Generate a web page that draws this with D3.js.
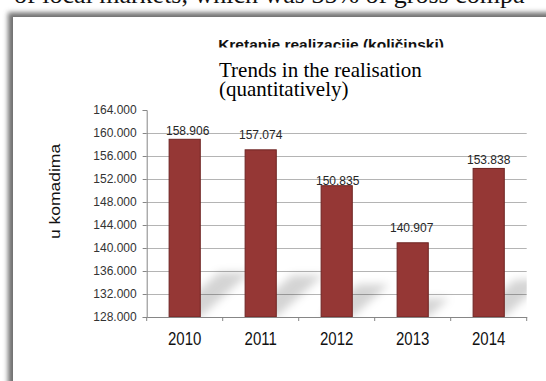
<!DOCTYPE html>
<html>
<head>
<meta charset="utf-8">
<script src="https://cdn.jsdelivr.net/npm/d3@7"></script>
<style>
  html, body { margin: 0; padding: 0; background: #fff; overflow: hidden; }
  svg { display: block; }
</style>
</head>
<body>
<svg id="chart" width="546" height="381"></svg>
<script>
// Annual realisation in units
const years = ["2010", "2011", "2012", "2013", "2014"];
const units = [158906, 157074, 150835, 140907, 153838];
const yTicks = [128000, 132000, 136000, 140000, 144000, 148000, 152000, 156000, 160000, 164000];
const yDomain = [128000, 164000];
// vertical gap between each value label and the top of its bar
const labelLift = [4, 11, 0.5, 10.5, 4];
const labelShift = [3, 0, 1, -1, 0];

const fmt = d3.formatLocale({ decimal: ",", thousands: ".", grouping: [3], currency: ["", ""] }).format(",d");

const svg = d3.select("#chart");
const defs = svg.append("defs");

defs.append("filter").attr("id", "soft").attr("x", "-20%").attr("y", "-20%")
  .attr("width", "140%").attr("height", "140%")
  .append("feGaussianBlur").attr("stdDeviation", 2.6);
defs.append("filter").attr("id", "floorShadow").attr("x", "-50%").attr("y", "-50%")
  .attr("width", "200%").attr("height", "200%")
  .append("feGaussianBlur").attr("stdDeviation", 4.5);

// surrounding line of body text, mostly cut off by the top edge
svg.append("text")
  .attr("x", 14).attr("y", 2.5)
  .attr("font-family", "'Liberation Serif', 'Times New Roman', serif")
  .attr("font-size", 26)
  .attr("fill", "#111")
  .text("of local markets, which was 35% of gross compa");

// framed chart sheet with a soft shadow on its top and left
svg.append("rect").attr("x", 8).attr("y", 12.5).attr("width", 700).attr("height", 600)
  .attr("fill", "#6f6f6f").attr("filter", "url(#soft)");
svg.append("rect").attr("x", 13).attr("y", 17).attr("width", 700).attr("height", 600)
  .attr("fill", "#fff");

// plot geometry
const plot = { left: 146.7, right: 526.7, top: 110, bottom: 317 };

const x = d3.scaleBand().domain(years).range([plot.left, plot.right]).padding(0);
const y = d3.scaleLinear().domain(yDomain).range([plot.bottom, plot.top]);
const barW = x.bandwidth() * 0.41;

defs.append("clipPath").attr("id", "plotClip")
  .append("rect")
  .attr("x", plot.left).attr("y", plot.top)
  .attr("width", plot.right - plot.left).attr("height", plot.bottom - plot.top);

// horizontal gridlines
svg.append("g").selectAll("line")
  .data(yTicks.filter(v => v > yDomain[0] && v < yDomain[1]))
  .join("line")
  .attr("x1", plot.left).attr("x2", plot.right)
  .attr("y1", d => Math.round(y(d)) + 0.5).attr("y2", d => Math.round(y(d)) + 0.5)
  .attr("stroke", "#b4b4b4").attr("stroke-width", 1);

// floor shadows cast by the bars
const shadowG = svg.append("g").attr("clip-path", "url(#plotClip)");
years.forEach((yr, i) => {
  const x0 = x(yr) + (x.bandwidth() - barW) / 2;
  const x1 = x0 + barW;
  const h = plot.bottom - y(units[i]);
  const dx = h * 0.28, dy = h * 0.25;
  const b = plot.bottom;
  shadowG.append("path")
    .attr("d", `M${x0},${b} L${x1},${b} L${x1 + dx},${b - dy} L${x0 + dx},${b - dy} Z`)
    .attr("fill", "#000").attr("fill-opacity", 0.17)
    .attr("filter", "url(#floorShadow)");
});

// bars
svg.append("g").selectAll("rect")
  .data(units)
  .join("rect")
  .attr("x", (d, i) => x(years[i]) + (x.bandwidth() - barW) / 2)
  .attr("y", d => y(d))
  .attr("width", barW)
  .attr("height", d => plot.bottom - y(d))
  .attr("fill", "#953735")
  .attr("stroke", "#6e2422").attr("stroke-width", 1);

// value labels
svg.append("g").selectAll("text")
  .data(units)
  .join("text")
  .attr("x", (d, i) => x(years[i]) + x.bandwidth() / 2 + labelShift[i])
  .attr("y", (d, i) => y(d) - labelLift[i])
  .attr("text-anchor", "middle")
  .attr("font-family", "Arial, 'Liberation Sans', sans-serif")
  .attr("font-size", 12)
  .attr("fill", "#262626")
  .text(d => fmt(d));

// y axis
const yAxis = svg.append("g")
  .attr("transform", `translate(${plot.left},0)`)
  .call(d3.axisLeft(y).tickValues(yTicks).tickFormat(fmt).tickSize(4).tickPadding(6));
yAxis.select(".domain").attr("stroke", "#868686");
yAxis.selectAll(".tick line").attr("stroke", "#868686");
yAxis.selectAll(".tick text")
  .attr("font-family", "Arial, 'Liberation Sans', sans-serif")
  .attr("font-size", 12)
  .attr("fill", "#333");

// x axis baseline with boundary ticks between categories
const xAxis = svg.append("g")
  .attr("transform", `translate(0,${plot.bottom})`)
  .call(d3.axisBottom(x).tickSize(0).tickFormat(""));
xAxis.select(".domain").attr("stroke", "#868686");
const edges = years.map(d => x(d)).concat([x(years[years.length - 1]) + x.bandwidth()]);
xAxis.selectAll("line.edge")
  .data(edges)
  .join("line")
  .attr("class", "edge")
  .attr("x1", d => d).attr("x2", d => d)
  .attr("y1", 0).attr("y2", 4)
  .attr("stroke", "#868686");

// category labels
svg.append("g").selectAll("text")
  .data(years)
  .join("text")
  .attr("transform", d => `translate(${x(d) + x.bandwidth() / 2},345) scale(1,1.25)`)
  .attr("text-anchor", "middle")
  .attr("font-family", "Arial, 'Liberation Sans', sans-serif")
  .attr("font-size", 15)
  .attr("fill", "#111")
  .text(d => d);

// y axis title
svg.append("text")
  .attr("transform", "translate(60,191.5) rotate(-90) scale(1.25,1)")
  .attr("text-anchor", "middle")
  .attr("font-family", "Arial, 'Liberation Sans', sans-serif")
  .attr("font-size", 14)
  .attr("fill", "#111")
  .text("u komadima");

// original chart title, partly covered by the translated caption
svg.append("text")
  .attr("x", 331).attr("y", 50)
  .attr("text-anchor", "middle")
  .attr("font-family", "Arial, 'Liberation Sans', sans-serif")
  .attr("font-weight", "bold")
  .attr("font-size", 15.5)
  .attr("fill", "#111")
  .text("Kretanje realizacije (količinski)");

svg.append("rect")
  .attr("x", 200).attr("y", 47.5).attr("width", 270).attr("height", 55)
  .attr("fill", "#fff");

const caption = svg.append("text")
  .attr("font-family", "'Liberation Serif', 'Times New Roman', serif")
  .attr("font-size", 21)
  .attr("fill", "#000");
caption.append("tspan").attr("x", 219).attr("y", 76.7).text("Trends in the realisation");
caption.append("tspan").attr("x", 219).attr("y", 95.5).text("(quantitatively)");
</script>
</body>
</html>
